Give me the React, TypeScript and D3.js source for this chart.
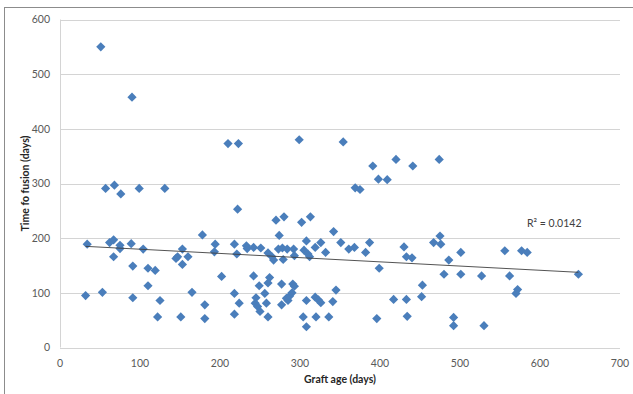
import { useMemo } from 'react'
import * as d3 from 'd3'

// graft age (days) vs time to fusion (days)
const graftAge = [
  32, 34, 51, 53, 57, 62, 67, 67, 68, 75, 75, 76, 89, 90, 91, 91, 99, 104, 110, 110,
  119, 122, 125, 131, 145, 147, 151, 153, 153, 160, 165, 178, 181, 181, 193, 194, 202, 210, 218, 218,
  218, 221, 222, 223, 224, 233, 234, 242, 242, 244, 245, 247, 249, 250, 251, 256, 258, 260, 260, 260,
  262, 265, 267, 270, 274, 273, 277, 277, 278, 279, 280, 283, 284, 285, 287, 290, 291, 292, 293, 293,
  299, 302, 304, 305, 308, 308, 308, 310, 312, 313, 319, 319, 320, 323, 326, 326, 332, 336, 341, 342,
  345, 351, 354, 361, 368, 369, 375, 382, 387, 391, 396, 398, 399, 409, 417, 420, 430, 433, 433, 434,
  440, 441, 452, 453, 467, 474, 475, 476, 480, 486, 492, 492, 501, 501, 527, 530, 556, 562, 570, 572,
  577, 584, 648,
]
const timeToFusion = [
  95, 189, 550, 101, 291, 192, 197, 166, 297, 187, 181, 281, 190, 458, 149, 91, 291, 180, 145, 113,
  141, 56, 86, 291, 163, 166, 56, 180, 152, 166, 101, 206, 78, 53, 175, 189, 130, 373, 189, 99,
  61, 171, 253, 373, 81, 186, 181, 183, 131, 81, 91, 75, 113, 66, 182, 99, 81, 173, 56, 118,
  128, 166, 160, 233, 205, 180, 116, 78, 182, 161, 239, 90, 180, 86, 94, 100, 116, 180, 168, 112,
  380, 229, 56, 178, 195, 86, 38, 171, 166, 239, 183, 92, 56, 87, 192, 82, 174, 56, 84, 212,
  105, 192, 376, 180, 183, 292, 289, 174, 192, 332, 53, 308, 145, 307, 88, 344, 184, 88, 166, 57,
  164, 332, 93, 114, 192, 344, 204, 189, 134, 160, 55, 40, 174, 134, 131, 40, 177, 131, 99, 106,
  177, 174, 134,
]

const xTicks = [0, 100, 200, 300, 400, 500, 600, 700]
const yTicks = [0, 100, 200, 300, 400, 500, 600]
const r2Label = 'R² = 0.0142'
const xTitle = 'Graft age (days)'
const yTitle = 'Time fo fusion (days)'

const W = 633
const H = 394
const FONT = 'Lato, "Open Sans", sans-serif'

export default function App() {
  const x = d3.scaleLinear().domain([0, 700]).range([60, 620])
  const y = d3.scaleLinear().domain([0, 600]).range([347.5, 19.5])

  // Excel-style linear trendline over the data range
  const trend = useMemo(() => {
    const n = graftAge.length
    const mx = d3.mean(graftAge)!
    const my = d3.mean(timeToFusion)!
    let sxy = 0
    let sxx = 0
    for (let i = 0; i < n; i++) {
      sxy += (graftAge[i] - mx) * (timeToFusion[i] - my)
      sxx += (graftAge[i] - mx) ** 2
    }
    const b = sxy / sxx
    const a = my - b * mx
    const [x0, x1] = d3.extent(graftAge) as [number, number]
    return [[x0, a + b * x0], [x1, a + b * x1]]
  }, [])

  const line = d3.line<number[]>().x(d => x(d[0])).y(d => y(d[1]))
  const diamond = 'M0,-4.6L4.6,0L0,4.6L-4.6,0Z'

  return (
    <div style={{ position: 'absolute', left: 0, top: 0 }}>
      <svg width={W} height={H} style={{ display: 'block', background: '#fff' }}>
        {/* chart frame, cropped at right and bottom */}
        <line x1={4} x2={W} y1={7.5} y2={7.5} stroke="#8c8c8c" />
        <line x1={4.5} x2={4.5} y1={7} y2={H} stroke="#8c8c8c" />

        {yTicks.map(t => (
          <line key={t} x1={60} x2={620} y1={Math.round(y(t)) + 0.5} y2={Math.round(y(t)) + 0.5}
            stroke="#d4d4d4" strokeWidth={1} />
        ))}
        <line x1={60.5} x2={60.5} y1={y(600)} y2={y(0)} stroke="#d4d4d4" />

        {yTicks.map(t => (
          <text key={t} x={50} y={y(t) + 3.8} textAnchor="end" fontFamily={FONT}
            fontSize={10.5} fill="#595959">{t}</text>
        ))}
        {xTicks.map(t => (
          <text key={t} x={x(t)} y={366.5} textAnchor="middle" fontFamily={FONT}
            fontSize={10.5} fill="#595959">{t}</text>
        ))}

        <text x={340} y={382.5} textAnchor="middle" fontFamily={FONT} fontSize={10.5}
          fontWeight="bold" fill="#262626">{xTitle}</text>
        <text transform={`translate(28.5,${(y(0) + y(600)) / 2}) rotate(-90)`} textAnchor="middle"
          fontFamily={FONT} fontSize={10.5} fontWeight="bold" fill="#262626">{yTitle}</text>

        {graftAge.map((g, i) => (
          <path key={i} d={diamond} transform={`translate(${x(g)},${y(timeToFusion[i])})`}
            fill="#4a7ebb" />
        ))}

        <path d={line(trend) || ''} fill="none" stroke="#404040" strokeWidth={0.9} />

        <text x={527} y={227} fontFamily={FONT} fontSize={10.5} fill="#404040">{r2Label}</text>
      </svg>
    </div>
  )
}
